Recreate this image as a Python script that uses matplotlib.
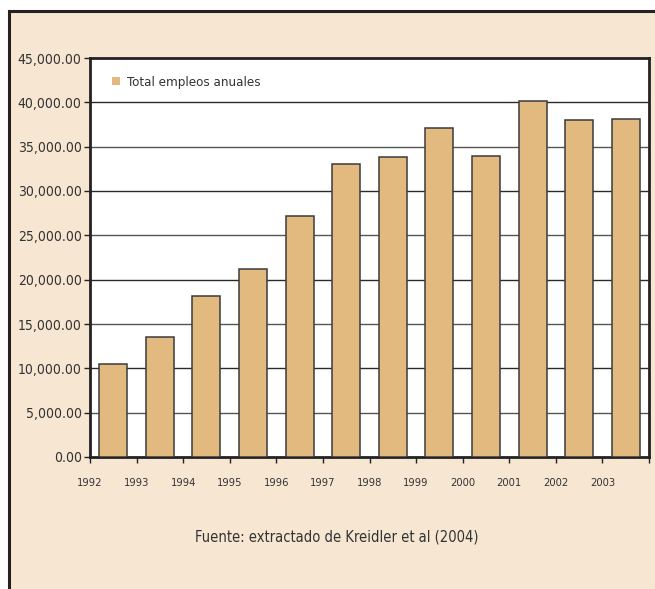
import matplotlib
matplotlib.use("Agg")
import matplotlib.pyplot as plt
from matplotlib.patches import Rectangle, Patch
from matplotlib.ticker import FuncFormatter

years = ["1992", "1993", "1994", "1995", "1996", "1997", "1998", "1999", "2000", "2001", "2002", "2003"]
empleos = [10540, 13520, 18150, 21200, 27200, 33100, 33870, 37150, 33900, 40150, 38000, 38080]
series_label = "Total empleos anuales"
caption = "Fuente: extractado de Kreidler et al (2004)"
yticks = [0, 5000, 10000, 15000, 20000, 25000, 30000, 35000, 40000, 45000]

plt.rcParams["font.family"] = ["DejaVu Sans"]
plt.rcParams["font.stretch"] = "condensed"

W, H = 655, 589
fig = plt.figure(figsize=(W / 100, H / 100), dpi=100, facecolor="white")

beige = "#F6E6D2"
bar_color = "#E2BA80"
dark = "#222222"

# outer beige panel
fig.patches.append(Rectangle((9 / W, -0.02), 1.02, (H - 11) / H + 0.02,
                             transform=fig.transFigure, facecolor=beige,
                             edgecolor=dark, linewidth=2.2, zorder=-5))

ax = fig.add_axes([90 / W, (H - 457) / H, (649 - 90) / W, (457 - 58) / H])
ax.set_zorder(2)
ax.set_facecolor("white")

x = [i + 0.5 for i in range(len(years))]
ax.bar(x, empleos, width=0.6, color=bar_color, edgecolor="#3a3a3a",
       linewidth=1.1, zorder=3)

ax.set_xlim(0, len(years))
ax.set_ylim(0, 45000)
ax.set_yticks(yticks)
ax.yaxis.set_major_formatter(FuncFormatter(lambda v, p: f"{v:,.2f}"))
ax.set_xticks(range(len(years) + 1))
ax.set_xticklabels(years + [""])

for i, y in enumerate(yticks[1:-1]):
    ax.axhline(y, color="#2a2a2a" if i % 2 else "#555555", linewidth=1.0, zorder=1)

for s in ax.spines.values():
    s.set_color(dark)
    s.set_linewidth(2.0)

ax.tick_params(axis="y", direction="out", length=4, width=1, colors=dark,
               labelsize=10, labelcolor="#333333", pad=2)
ax.tick_params(axis="x", direction="out", length=4, width=1, colors=dark,
               labelsize=8, labelcolor="#333333", pad=11)

leg = ax.legend(handles=[Patch(facecolor=bar_color, edgecolor="none", label=series_label)],
                loc="upper left", bbox_to_anchor=(0.018, 0.985), frameon=False,
                handlelength=0.6, handleheight=0.6, handletextpad=0.55,
                prop={"size": 9.5, "stretch": "condensed"})
for t in leg.get_texts():
    t.set_color("#333333")

fig.text(337 / W, 1 - 537 / H, caption, ha="center", va="center",
         fontsize=10.5, color="#333333", fontstretch="condensed")

fig.savefig("out.png", dpi=100, facecolor="white")
